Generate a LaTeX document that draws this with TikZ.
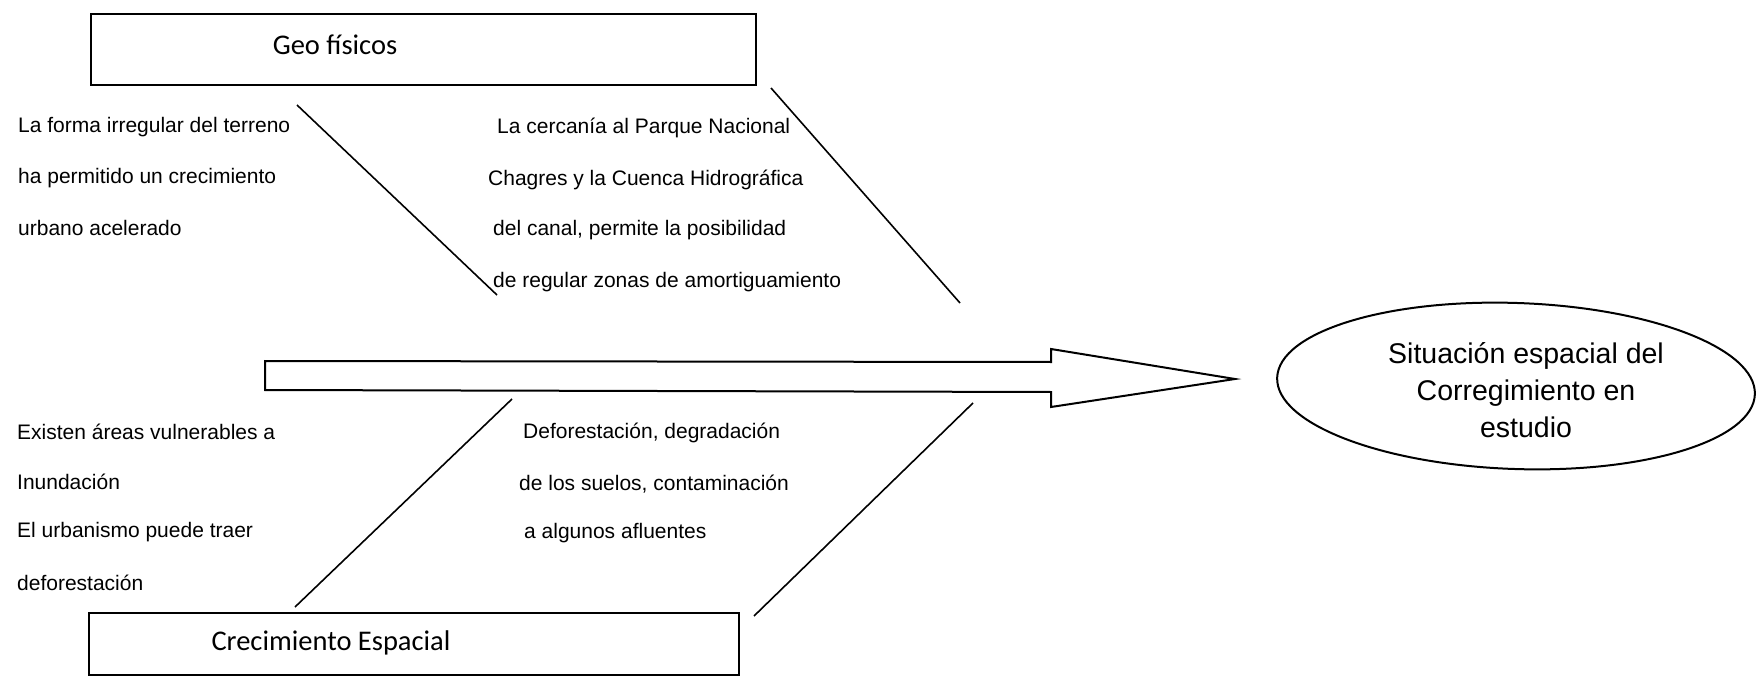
\documentclass[tikz,border=0pt]{standalone}
\usepackage{fontspec}
\setmainfont{Liberation Sans}
\newfontfamily\calib{Carlito}
\usetikzlibrary{shapes.geometric}
\begin{document}
\begin{tikzpicture}[x=1pt,y=-1pt,
  box/.style={draw,line width=2pt,rectangle,inner sep=0pt},
  bone/.style={line width=1.6pt},
  cause/.style={anchor=west,inner sep=0pt,font=\fontsize{21}{25}\selectfont},
  title/.style={inner sep=0pt,font=\calib\fontsize{28.5}{34}\selectfont}]
\useasboundingbox (0,0) rectangle (1758,676);
% boxes
\node[box,minimum width=665pt,minimum height=71pt] (geo) at (423.5,49.5) {};
\node[title] (geolbl) at (335,45) {Geo físicos};
\node[box,minimum width=650pt,minimum height=62pt] (crec) at (414,644) {};
\node[title] (creclbl) at (331,643) {Crecimiento Espacial};
% spine arrow
\draw[line width=2pt,line join=miter] (265,361) coordinate (spineL) -- (1051,362) -- (1051,349)
  -- (1235,379) coordinate (tip) -- (1051,407) -- (1051,392) -- (265,390) -- cycle;
% effect
\node[draw,ellipse,line width=2pt,minimum width=478pt,minimum height=166pt,rotate=-2] (situ) at (1516,386) {};
\node[align=center,inner sep=0pt,font=\fontsize{28.5}{37}\selectfont] (situtxt) at (1526,390)
  {Situación espacial del\\Corregimiento en\\estudio};
% bones
\coordinate (t1a) at (297,105); \coordinate (t1b) at (497,295);
\coordinate (t2a) at (771,88);  \coordinate (t2b) at (960,303);
\coordinate (b1a) at (512,399); \coordinate (b1b) at (295,607);
\coordinate (b2a) at (973,403); \coordinate (b2b) at (754,616);
\draw[bone] (t1a) -- (t1b);
\draw[bone] (t2a) -- (t2b);
\draw[bone] (b1a) -- (b1b);
\draw[bone] (b2a) -- (b2b);
% causes top left
\node[cause] (c1) at (18,127) {La forma irregular del terreno};
\node[cause] (c2) at (18,178) {ha permitido un crecimiento};
\node[cause] (c3) at (18,228) {urbano acelerado};
% causes top right
\node[cause] (d1) at (497,128) {La cercanía al Parque Nacional};
\node[cause] (d2) at (488,180) {Chagres y la Cuenca Hidrográfica};
\node[cause] (d3) at (493,230) {del canal, permite la posibilidad};
\node[cause] (d4) at (493,282) {de regular zonas de amortiguamiento};
% causes bottom left
\node[cause] (e1) at (17,432) {Existen áreas vulnerables a};
\node[cause] (e2) at (17,482) {Inundación};
\node[cause] (e3) at (17,532) {El urbanismo puede traer};
\node[cause] (e4) at (17,583) {deforestación};
% causes bottom middle
\node[cause] (f1) at (523,433) {Deforestación, degradación};
\node[cause] (f2) at (519,484) {de los suelos, contaminación};
\node[cause] (f3) at (524,533) {a algunos afluentes};
\end{tikzpicture}
\end{document}
